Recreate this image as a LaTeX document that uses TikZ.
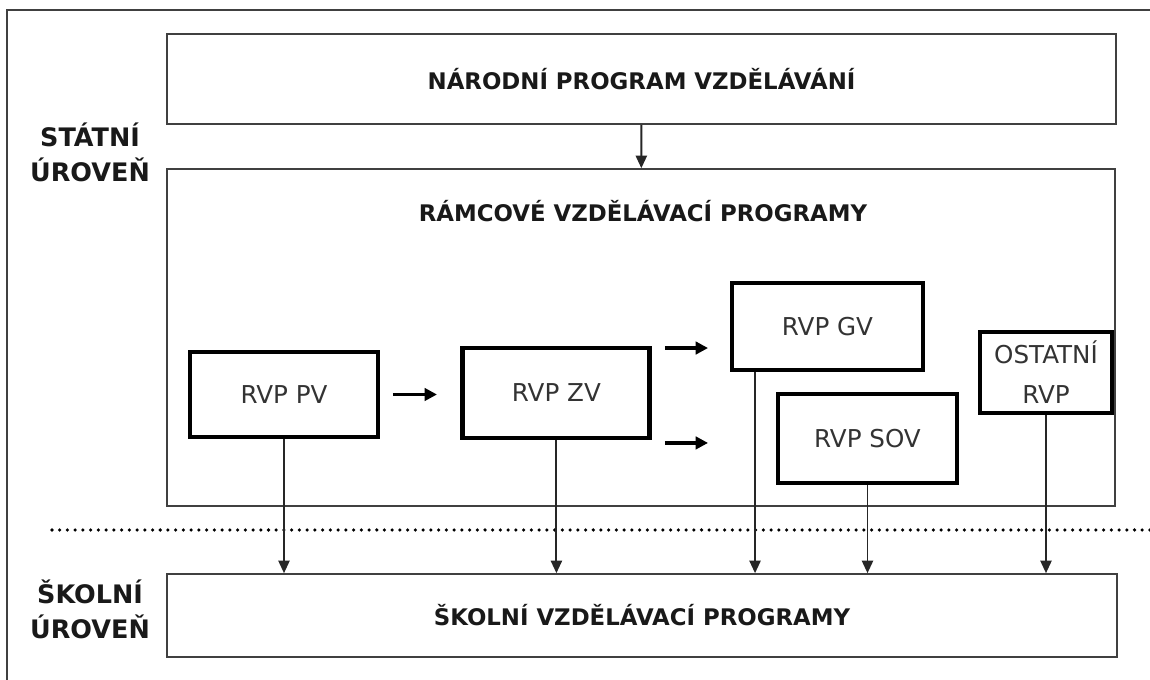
\documentclass[tikz,border=0pt]{standalone}
\usepackage{fontspec}
\setmainfont{DejaVu Sans}
\usetikzlibrary{positioning, arrows.meta}

\begin{document}
\begin{tikzpicture}[
  >=Triangle,
  frame/.style={draw=black!75, line width=0.9pt, rectangle, inner sep=0pt},
  heading/.style={font=\bfseries\fontsize{13}{20}\selectfont, text=black!90},
  rvpbox/.style={draw=black, line width=2.8pt, rectangle, fill=white, inner sep=0pt,
    font=\fontsize{14}{22.7}\selectfont, text=black!80, align=center},
  level/.style={font=\bfseries\fontsize{14.5}{20}\selectfont, text=black!90, align=center},
  varrow/.style={-{Triangle[length=7.2pt,width=6.4pt]}, line width=1.1pt, draw=black!85},
  harrow/.style={-{Triangle[length=7pt,width=7pt]}, line width=1.8pt}
]
\useasboundingbox (0,0) rectangle (23,13.6);
\draw[black!75, line width=0.9pt] (0.14,0) -- (0.14,13.4) -- (23,13.4);

% statni uroven
\node[frame, minimum width=18.98cm, minimum height=1.8cm, heading] (npv) at (12.83,12.02) {NÁRODNÍ PROGRAM VZDĚLÁVÁNÍ};
\node[frame, minimum width=18.96cm, minimum height=6.74cm] (rvp) at (12.82,6.85) {};
\node[heading] (rvptitle) at (12.86,9.38) {RÁMCOVÉ VZDĚLÁVACÍ PROGRAMY};
\node[level] (statni) at (1.8,10.56) {STÁTNÍ\\ÚROVEŇ};

\node[rvpbox, minimum width=3.76cm, minimum height=1.7cm] (pv) at (5.68,5.71) {RVP PV};
\node[rvpbox, minimum width=3.74cm, minimum height=1.8cm, right=1.6cm of pv, yshift=0.03cm] (zv) {RVP ZV};
\node[rvpbox, minimum width=3.82cm, minimum height=1.74cm] (gv) at (16.55,7.07) {RVP GV};
\node[rvpbox, minimum width=3.58cm, minimum height=1.78cm] (sov) at (17.35,4.83) {RVP SOV};
\node[rvpbox, minimum width=2.64cm, minimum height=1.62cm] (ost) at (20.92,6.15) {OSTATNÍ\\RVP};

% skolni uroven
\node[frame, minimum width=19.0cm, minimum height=1.66cm, heading] (svp) at (12.84,1.29) {ŠKOLNÍ VZDĚLÁVACÍ PROGRAMY};
\node[level] (skolni) at (1.8,1.42) {ŠKOLNÍ\\ÚROVEŇ};

\coordinate (dl) at (1.04,3.0);
\coordinate (dr) at (23,3.0);
\draw[line width=2pt, line cap=round, dash pattern=on 0pt off 4.4pt] (dl) -- (dr);

\draw[varrow] (npv) -- (rvp);
\draw[harrow] ([xshift=0.25cm]pv.east) -- ([xshift=-0.47cm]pv.east -| zv.west);
\draw[harrow] ([xshift=0.25cm, yshift=-0.05cm]zv.north east) -- ([xshift=-0.43cm, yshift=-0.05cm]zv.north east -| gv.west);
\draw[harrow] ([xshift=0.25cm, yshift=-0.05cm]zv.south east) -- ([xshift=-0.43cm, yshift=-0.05cm]zv.south east -| gv.west);

\draw[varrow] (pv.south) -- (pv.south |- svp.north);
\draw[varrow] (zv.south) -- (zv.south |- svp.north);
\draw[varrow] ([xshift=0.51cm]gv.south west) -- ([xshift=0.51cm]gv.south west |- svp.north);
\draw[varrow] (sov.south) -- (sov.south |- svp.north);
\draw[varrow] (ost.south) -- (ost.south |- svp.north);

\end{tikzpicture}
\end{document}
